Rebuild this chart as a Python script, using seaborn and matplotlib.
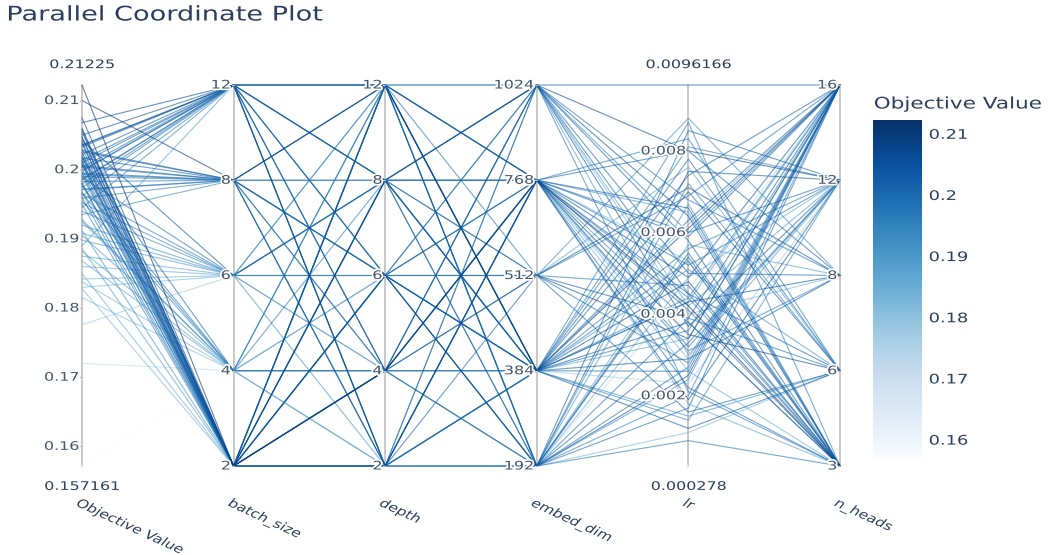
import numpy as np
import pandas as pd
import matplotlib
matplotlib.use("Agg")
import matplotlib.pyplot as plt
import matplotlib.patheffects as pe
from matplotlib.transforms import Affine2D
import seaborn as sns

# ---- trial data ----
objective = [
    0.21225, 0.2100, 0.2075, 0.2068, 0.2060, 0.2055, 0.2050, 0.2046, 0.2042, 0.2038,
    0.2035, 0.2031, 0.2028, 0.2025, 0.2022, 0.2019, 0.2016, 0.2013, 0.2010, 0.2007,
    0.2004, 0.2001, 0.1998, 0.1995, 0.1992, 0.1989, 0.1986, 0.1983, 0.1980, 0.1977,
    0.1974, 0.1971, 0.1968, 0.1965, 0.1962, 0.1959, 0.1955, 0.1950, 0.1945, 0.1940,
    0.1935, 0.1928, 0.1920, 0.1912, 0.1905, 0.1898, 0.1890, 0.1882, 0.1875, 0.1868,
    0.1860, 0.1850, 0.1838, 0.1830, 0.1828, 0.1815, 0.1776, 0.1720, 0.157161,
    0.2033, 0.2017, 0.2003, 0.1993, 0.2040, 0.2012, 0.1979, 0.1960,
    0.2058, 0.2048, 0.2036, 0.2026, 0.2021, 0.2014, 0.2009, 0.2006, 0.1999, 0.1996,
    0.1990, 0.1985, 0.1981, 0.1972, 0.1966, 0.1952, 0.1925, 0.1908, 0.1886, 0.1842,
]
batch_size = [
    2, 8, 2, 12, 2, 2, 12, 2, 6, 2,
    12, 2, 8, 2, 12, 2, 4, 2, 12, 2,
    8, 2, 12, 8, 2, 6, 12, 8, 2, 4,
    12, 8, 2, 6, 12, 8, 4, 2, 12, 6,
    8, 4, 6, 2, 4, 6, 12, 4, 6, 4,
    6, 2, 4, 6, 2, 4, 6, 4, 4,
    12, 8, 12, 8, 2, 2, 12, 2,
    2, 2, 12, 8, 2, 12, 2, 8, 12, 2,
    8, 12, 2, 8, 4, 6, 4, 6, 2, 6,
]
depth = [
    4, 12, 8, 2, 6, 12, 4, 2, 8, 4,
    6, 12, 2, 8, 12, 6, 4, 2, 8, 12,
    6, 4, 2, 8, 12, 6, 4, 2, 8, 12,
    6, 4, 2, 8, 12, 6, 4, 2, 8, 12,
    6, 4, 2, 8, 12, 6, 4, 2, 8, 12,
    6, 4, 2, 8, 12, 6, 4, 2, 8,
    8, 4, 2, 12, 6, 4, 6, 12,
    8, 2, 12, 6, 4, 8, 6, 12, 2, 4,
    8, 12, 6, 2, 8, 4, 6, 12, 2, 8,
]
embed_dim = [
    768, 384, 1024, 768, 192, 384, 512, 768, 192, 1024,
    384, 768, 512, 384, 192, 768, 1024, 384, 768, 192,
    1024, 512, 384, 768, 384, 192, 768, 192, 1024, 384,
    512, 768, 384, 192, 768, 384, 1024, 192, 384, 768,
    512, 192, 384, 768, 1024, 384, 192, 768, 512, 384,
    192, 768, 384, 1024, 192, 768, 384, 192, 512,
    1024, 384, 192, 512, 384, 768, 1024, 384,
    512, 1024, 768, 192, 384, 384, 768, 1024, 768, 192,
    384, 192, 512, 768, 384, 768, 384, 192, 1024, 768,
]
lr = [
    0.0042, 0.0061, 0.0080, 0.0035, 0.0025, 0.0048, 0.0071, 0.0019, 0.0054, 0.0096166,
    0.0012, 0.0066, 0.0039, 0.0029, 0.0085, 0.0045, 0.0058, 0.0074, 0.0022, 0.0033,
    0.0050, 0.0016, 0.0063, 0.0041, 0.0078, 0.0027, 0.0052, 0.0009, 0.0068, 0.0036,
    0.0047, 0.0083, 0.0056, 0.0020, 0.0031, 0.0044, 0.0060, 0.0072, 0.0014, 0.0038,
    0.0088, 0.0024, 0.0051, 0.0065, 0.0030, 0.0043, 0.0057, 0.0018, 0.0076, 0.0034,
    0.0049, 0.0026, 0.0062, 0.0040, 0.0011, 0.0053, 0.0023, 0.0046, 0.000278,
    0.0037, 0.0070, 0.0055, 0.0028, 0.0043, 0.0059, 0.0021, 0.0081,
    0.0034, 0.0064, 0.0049, 0.0075, 0.0038, 0.0026, 0.0080, 0.0045, 0.0060, 0.0017,
    0.0053, 0.0039, 0.0069, 0.0032, 0.0087, 0.0044, 0.0015, 0.0067, 0.0042, 0.0029,
]
n_heads = [
    3, 16, 12, 6, 16, 3, 8, 12, 3, 16,
    6, 3, 16, 8, 12, 6, 3, 16, 3, 12,
    8, 6, 16, 3, 6, 16, 12, 3, 8, 16,
    3, 6, 12, 16, 8, 3, 16, 6, 12, 3,
    8, 16, 6, 3, 12, 16, 8, 3, 6, 16,
    12, 3, 16, 8, 6, 3, 12, 16, 3,
    12, 6, 3, 16, 8, 16, 3, 12,
    16, 3, 16, 12, 3, 16, 8, 3, 12, 16,
    3, 6, 16, 12, 3, 16, 6, 3, 12, 16,
]

batch_cats = [2, 4, 6, 8, 12]
depth_cats = [2, 4, 6, 8, 12]
embed_cats = [192, 384, 512, 768, 1024]
heads_cats = [3, 6, 8, 12, 16]
obj_ticks = [0.16, 0.17, 0.18, 0.19, 0.20, 0.21]
obj_tick_labels = ["0.16", "0.17", "0.18", "0.19", "0.2", "0.21"]
lr_ticks = [0.002, 0.004, 0.006, 0.008]
lr_tick_labels = ["0.002", "0.004", "0.006", "0.008"]
axis_names = ["Objective Value", "batch_size", "depth", "embed_dim", "lr", "n_heads"]

obj_min, obj_max = min(objective), max(objective)
lr_min, lr_max = min(lr), max(lr)


def lin(v, lo, hi):
    return (np.asarray(v, dtype=float) - lo) / (hi - lo)


def cat(v, cats):
    return np.array([cats.index(x) for x in v], dtype=float) / (len(cats) - 1)


scaled = [
    lin(objective, obj_min, obj_max),
    cat(batch_size, batch_cats),
    cat(depth, depth_cats),
    cat(embed_dim, embed_cats),
    lin(lr, lr_min, lr_max),
    cat(n_heads, heads_cats),
]

n = len(objective)
rows = []
for t in range(n):
    for k in range(6):
        rows.append({"trial": t, "axis": k, "value": scaled[k][t], "objective": objective[t]})
long_df = pd.DataFrame(rows).sort_values(["objective", "trial", "axis"])


class WideText(pe.AbstractPathEffect):
    """Draws text glyphs widened horizontally about an anchor edge."""

    def __init__(self, sx=1.35, anchor="left", halo=None):
        super().__init__()
        self.sx = sx
        self.anchor = anchor
        self.halo = halo

    def draw_path(self, renderer, gc, tpath, affine, rgbFace=None):
        ext = tpath.get_extents(affine)
        xa = {"left": ext.x0, "center": 0.5 * (ext.x0 + ext.x1), "right": ext.x1}[self.anchor]
        tr = affine + Affine2D().translate(-xa, 0).scale(self.sx, 1).translate(xa, 0)
        if self.halo is not None:
            gc0 = renderer.new_gc()
            gc0.copy_properties(gc)
            gc0.set_linewidth(self.halo)
            gc0.set_foreground("white")
            gc0.set_joinstyle("round")
            renderer.draw_path(gc0, tpath, tr, rgbFace)
            gc0.restore()
        renderer.draw_path(gc, tpath, tr, rgbFace)


def wide(anchor, halo=None):
    return [WideText(1.35, anchor, halo)]


sns.set_theme(style="white")
plt.rcParams["font.family"] = ["DejaVu Sans"]

W, H = 1054, 555
fig = plt.figure(figsize=(W / 100, H / 100), dpi=100)
x0, x1, ytop, ybot = 82, 840, 85, 466
ax = fig.add_axes([x0 / W, 1 - ybot / H, (x1 - x0) / W, (ybot - ytop) / H])

sns.lineplot(
    data=long_df, x="axis", y="value", hue="objective", units="trial",
    estimator=None, sort=False, palette="Blues", hue_norm=(obj_min, obj_max),
    legend=False, linewidth=0.8, alpha=0.6, ax=ax,
)
for line in ax.get_lines():
    line.set_clip_on(False)

ax.set_xlim(0, 5)
ax.set_ylim(0, 1)
ax.axis("off")

txt_color = "#2a3f5f"
tick_color = "#44546a"

for k in range(6):
    ax.plot([k, k], [0, 1], color="#c4c4c4", lw=1.3, zorder=0.5, clip_on=False)


def ticks(k, positions, labels):
    for p, lab in zip(positions, labels):
        ax.plot([k - 0.012, k], [p, p], color="#c4c4c4", lw=1.0, clip_on=False, zorder=3)
        ax.text(k - 0.02, p, lab, ha="right", va="center", fontsize=8.5,
                color=tick_color, path_effects=wide("right", 2.5), zorder=4)


ticks(0, lin(obj_ticks, obj_min, obj_max), obj_tick_labels)
ticks(1, np.linspace(0, 1, 5), [str(c) for c in batch_cats])
ticks(2, np.linspace(0, 1, 5), [str(c) for c in depth_cats])
ticks(3, np.linspace(0, 1, 5), [str(c) for c in embed_cats])
ticks(4, lin(lr_ticks, lr_min, lr_max), lr_tick_labels)
ticks(5, np.linspace(0, 1, 5), [str(c) for c in heads_cats])

# range labels on the continuous axes
for k, lo, hi in [(0, "0.157161", "0.21225"), (4, "0.000278", "0.0096166")]:
    ax.annotate(hi, (k, 1), xytext=(0, 10), textcoords="offset points",
                ha="center", va="bottom", fontsize=8.5, color=txt_color,
                path_effects=wide("center"))
    ax.annotate(lo, (k, 0), xytext=(0, -10), textcoords="offset points",
                ha="center", va="top", fontsize=8.5, color=txt_color,
                path_effects=wide("center"))

# rotated axis names
for k, name in enumerate(axis_names):
    ax.annotate(name, (k, 0), xytext=(-1, -22), textcoords="offset points",
                ha="left", va="top", rotation=-32, rotation_mode="anchor",
                fontsize=8.5, color=txt_color, path_effects=wide("left"))

fig.text(7 / W, 1 - 15 / H, "Parallel Coordinate Plot", ha="left", va="center",
         fontsize=14.5, color=txt_color, path_effects=wide("left"))

# colour bar
cax = fig.add_axes([873 / W, 1 - 457 / H, 49 / W, (457 - 120) / H])
sm = plt.cm.ScalarMappable(cmap="Blues", norm=plt.Normalize(obj_min, obj_max))
cb = fig.colorbar(sm, cax=cax, ticks=obj_ticks)
cb.ax.set_yticklabels(obj_tick_labels)
cb.outline.set_visible(False)
cb.ax.tick_params(length=0, labelsize=9.5, labelcolor=txt_color, pad=5)
for t in cb.ax.get_yticklabels():
    t.set_path_effects(wide("left"))
fig.text(874 / W, 1 - 104 / H, "Objective Value", ha="left", va="center",
         fontsize=11.5, color=txt_color, path_effects=wide("left"))

fig.savefig("out.png", dpi=100)
